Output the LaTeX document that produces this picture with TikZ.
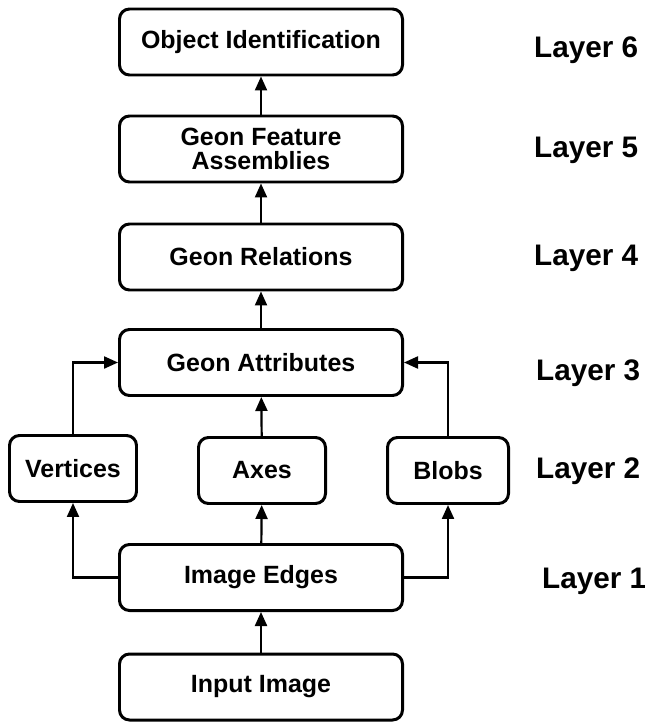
\documentclass[tikz,border=0pt]{standalone}
\usepackage{fontspec}
\setmainfont{Liberation Sans}
\usetikzlibrary{arrows.meta}
\def\BoxFont{\fontsize{14.2}{13.7}\selectfont\bfseries}
\def\LayerFont{\fontsize{16.9}{20}\selectfont\bfseries}
\tikzstyle{main_box} =
  [ rectangle
  , rounded corners=0.2cm
  , draw
  , line width=1.7pt
  , minimum width=5.66cm
  , minimum height=1.32cm
  , align=center
  , font=\BoxFont
  ]
\tikzstyle{small_box} =
  [ main_box
  , minimum width=2.54cm
  ]
\tikzstyle{layer_label} =
  [ anchor=west
  , inner sep=0pt
  , font=\LayerFont
  ]
\def\ObjectIdentification{Object Identification}
\def\GeonFeatureAssemblies{Geon Feature\\Assemblies}
\def\GeonRelations{Geon Relations}
\def\GeonAttributes{Geon Attributes}
\def\Vertices{Vertices}
\def\Axes{Axes}
\def\Blobs{Blobs}
\def\ImageEdges{Image Edges}
\def\InputImage{Input Image}

\begin{document}
\begin{tikzpicture}[>={Triangle[length=0.28cm,width=0.24cm]},line width=1.25pt]
    \useasboundingbox (0,0) rectangle (12.88,-14.44);

    \node[main_box]  (ObjectIdentification)  at (5.22, -0.84)  {\ObjectIdentification};
    \node[main_box]  (GeonFeatureAssemblies) at (5.22, -2.98)  {\GeonFeatureAssemblies};
    \node[main_box]  (GeonRelations)         at (5.22, -5.14)  {\GeonRelations};
    \node[main_box]  (GeonAttributes)        at (5.22, -7.25)  {\GeonAttributes};
    \node[small_box] (Vertices)              at (1.46, -9.37)  {\Vertices};
    \node[small_box] (Axes)                  at (5.24, -9.41)  {\Axes};
    \node[small_box, minimum width=2.42cm]
                     (Blobs)                 at (8.96, -9.41)  {\Blobs};
    \node[main_box]  (ImageEdges)            at (5.22, -11.55) {\ImageEdges};
    \node[main_box]  (InputImage)            at (5.22, -13.74) {\InputImage};

    \node[layer_label] (Layer6) at (10.66, -1.0)  {Layer 6};
    \node[layer_label] (Layer5) at (10.66, -3.0)  {Layer 5};
    \node[layer_label] (Layer4) at (10.66, -5.16) {Layer 4};
    \node[layer_label] (Layer3) at (10.70, -7.46) {Layer 3};
    \node[layer_label] (Layer2) at (10.70, -9.42) {Layer 2};
    \node[layer_label] (Layer1) at (10.82, -11.62) {Layer 1};

    \draw[->] (InputImage)            -- (ImageEdges);
    \draw[->] (ImageEdges.west)       -| (Vertices);
    \draw[->] (ImageEdges)            -- (Axes);
    \draw[->] (ImageEdges.east)       -| (Blobs);

    \draw[->] (Vertices)              |- (GeonAttributes.west);
    \draw[->] (Axes)                  -- (GeonAttributes);
    \draw[->] (Blobs)                 |- (GeonAttributes.east);

    \draw[->] (GeonAttributes)        -- (GeonRelations);
    \draw[->] (GeonRelations)         -- (GeonFeatureAssemblies);
    \draw[->] (GeonFeatureAssemblies) -- (ObjectIdentification);
  \end{tikzpicture}
\end{document}
